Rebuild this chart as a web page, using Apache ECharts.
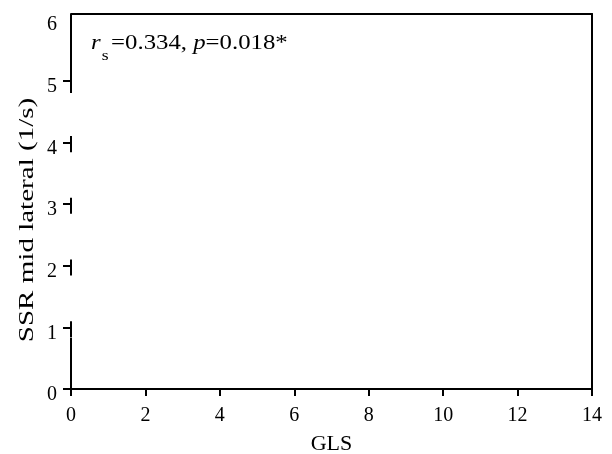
<!DOCTYPE html>
<html>
<head>
<meta charset="utf-8">
<script src="https://cdn.jsdelivr.net/npm/echarts@6/dist/echarts.min.js"></script>
<style>
  html, body { margin: 0; padding: 0; background: #fff; }
  #chart { width: 612px; height: 454px; }
</style>
</head>
<body>
<div id="chart"></div>
<script>
// No markers are visible in the figure, so the point arrays stay empty.
const gls = [];
const ssrMidLateral = [];
const xTicks = [0, 2, 4, 6, 8, 10, 12, 14];
const yLabels = [0, 1, 2, 3, 4, 5, 6];
const yTickMarks = [0, 1, 2, 3, 4, 5];
const yTop = 6.08;
const rs = '0.334';
const pValue = '0.018*';
// pieces of the left frame line that are drawn (the rest is broken in the figure)
const leftLineParts = [[yTop, 4.8], [4.1, 3.84], [3.1, 2.84], [2.1, 1.84], [1.1, 0.84], [0.83, 0]];

const font = "'Liberation Serif', 'Times New Roman', serif";
const black = '#000';

const chart = echarts.init(document.getElementById('chart'), null, {renderer: 'canvas'});

const frameAxis = {
    axisLine: {show: true, onZero: false, lineStyle: {color: black, width: 2}},
    axisTick: {show: false},
    axisLabel: {show: false},
    splitLine: {show: false},
};

chart.setOption({
    animation: false,
    backgroundColor: '#fff',
    grid: {left: 71, right: 20, top: 14, bottom: 65, outerBoundsMode: 'none', containLabel: false},
    xAxis: [{
        type: 'value',
        min: xTicks[0],
        max: xTicks[xTicks.length - 1],
        interval: 2,
        name: 'GLS',
        nameLocation: 'middle',
        nameGap: 44,
        nameTextStyle: {fontFamily: font, fontSize: 22, color: black},
        axisLine: {show: true, onZero: false, lineStyle: {color: black, width: 2}},
        axisTick: {show: true, length: 7, lineStyle: {color: black, width: 2}},
        axisLabel: {fontFamily: font, fontSize: 20, color: black, margin: 17},
        splitLine: {show: false},
    }, {
        type: 'value',
        position: 'top',
        min: xTicks[0],
        max: xTicks[xTicks.length - 1],
        ...frameAxis,
    }],
    yAxis: [{
        type: 'value',
        min: 0,
        max: yTop,
        axisLine: {show: false},
        axisTick: {show: true, length: 8, customValues: yTickMarks,
            lineStyle: {color: black, width: 2}},
        axisLabel: {fontFamily: font, fontSize: 20, color: black, margin: 14,
            verticalAlign: 'top', lineHeight: 12, customValues: yLabels},
        splitLine: {show: false},
    }, {
        type: 'value',
        position: 'right',
        min: 0,
        max: yTop,
        ...frameAxis,
    }],
    graphic: [{
        type: 'text',
        x: 27,
        y: 220,
        rotation: Math.PI / 2,
        scaleX: 1.32,
        style: {
            text: 'SSR mid lateral (1/s)',
            font: `22px ${font}`,
            fill: black,
            align: 'center',
            verticalAlign: 'middle',
        },
    }, {
        type: 'text',
        x: 91,
        y: 22,
        scaleX: 1.18,
        style: {
            text: `{i|r}{sub|s}{n|=${rs}, }{i|p}{n|=${pValue}}`,
            rich: {
                n: {fontFamily: font, fontSize: 21, lineHeight: 42, fill: black},
                i: {fontFamily: font, fontSize: 21, fontStyle: 'italic', lineHeight: 42, fill: black},
                sub: {fontFamily: font, fontSize: 15, lineHeight: 15, verticalAlign: 'bottom',
                    padding: [0, 2, 0, 1], fill: black},
            },
        },
    }],
    series: [{
        type: 'scatter',
        name: 'SSR mid lateral',
        data: gls.map((x, i) => [x, ssrMidLateral[i]]),
        silent: true,
        markLine: {
            silent: true,
            symbol: ['none', 'none'],
            label: {show: false},
            lineStyle: {color: black, width: 2, type: 'solid'},
            data: leftLineParts.map(([a, b]) => [{coord: [0, a]}, {coord: [0, b]}]),
        },
    }],
});
</script>
</body>
</html>
